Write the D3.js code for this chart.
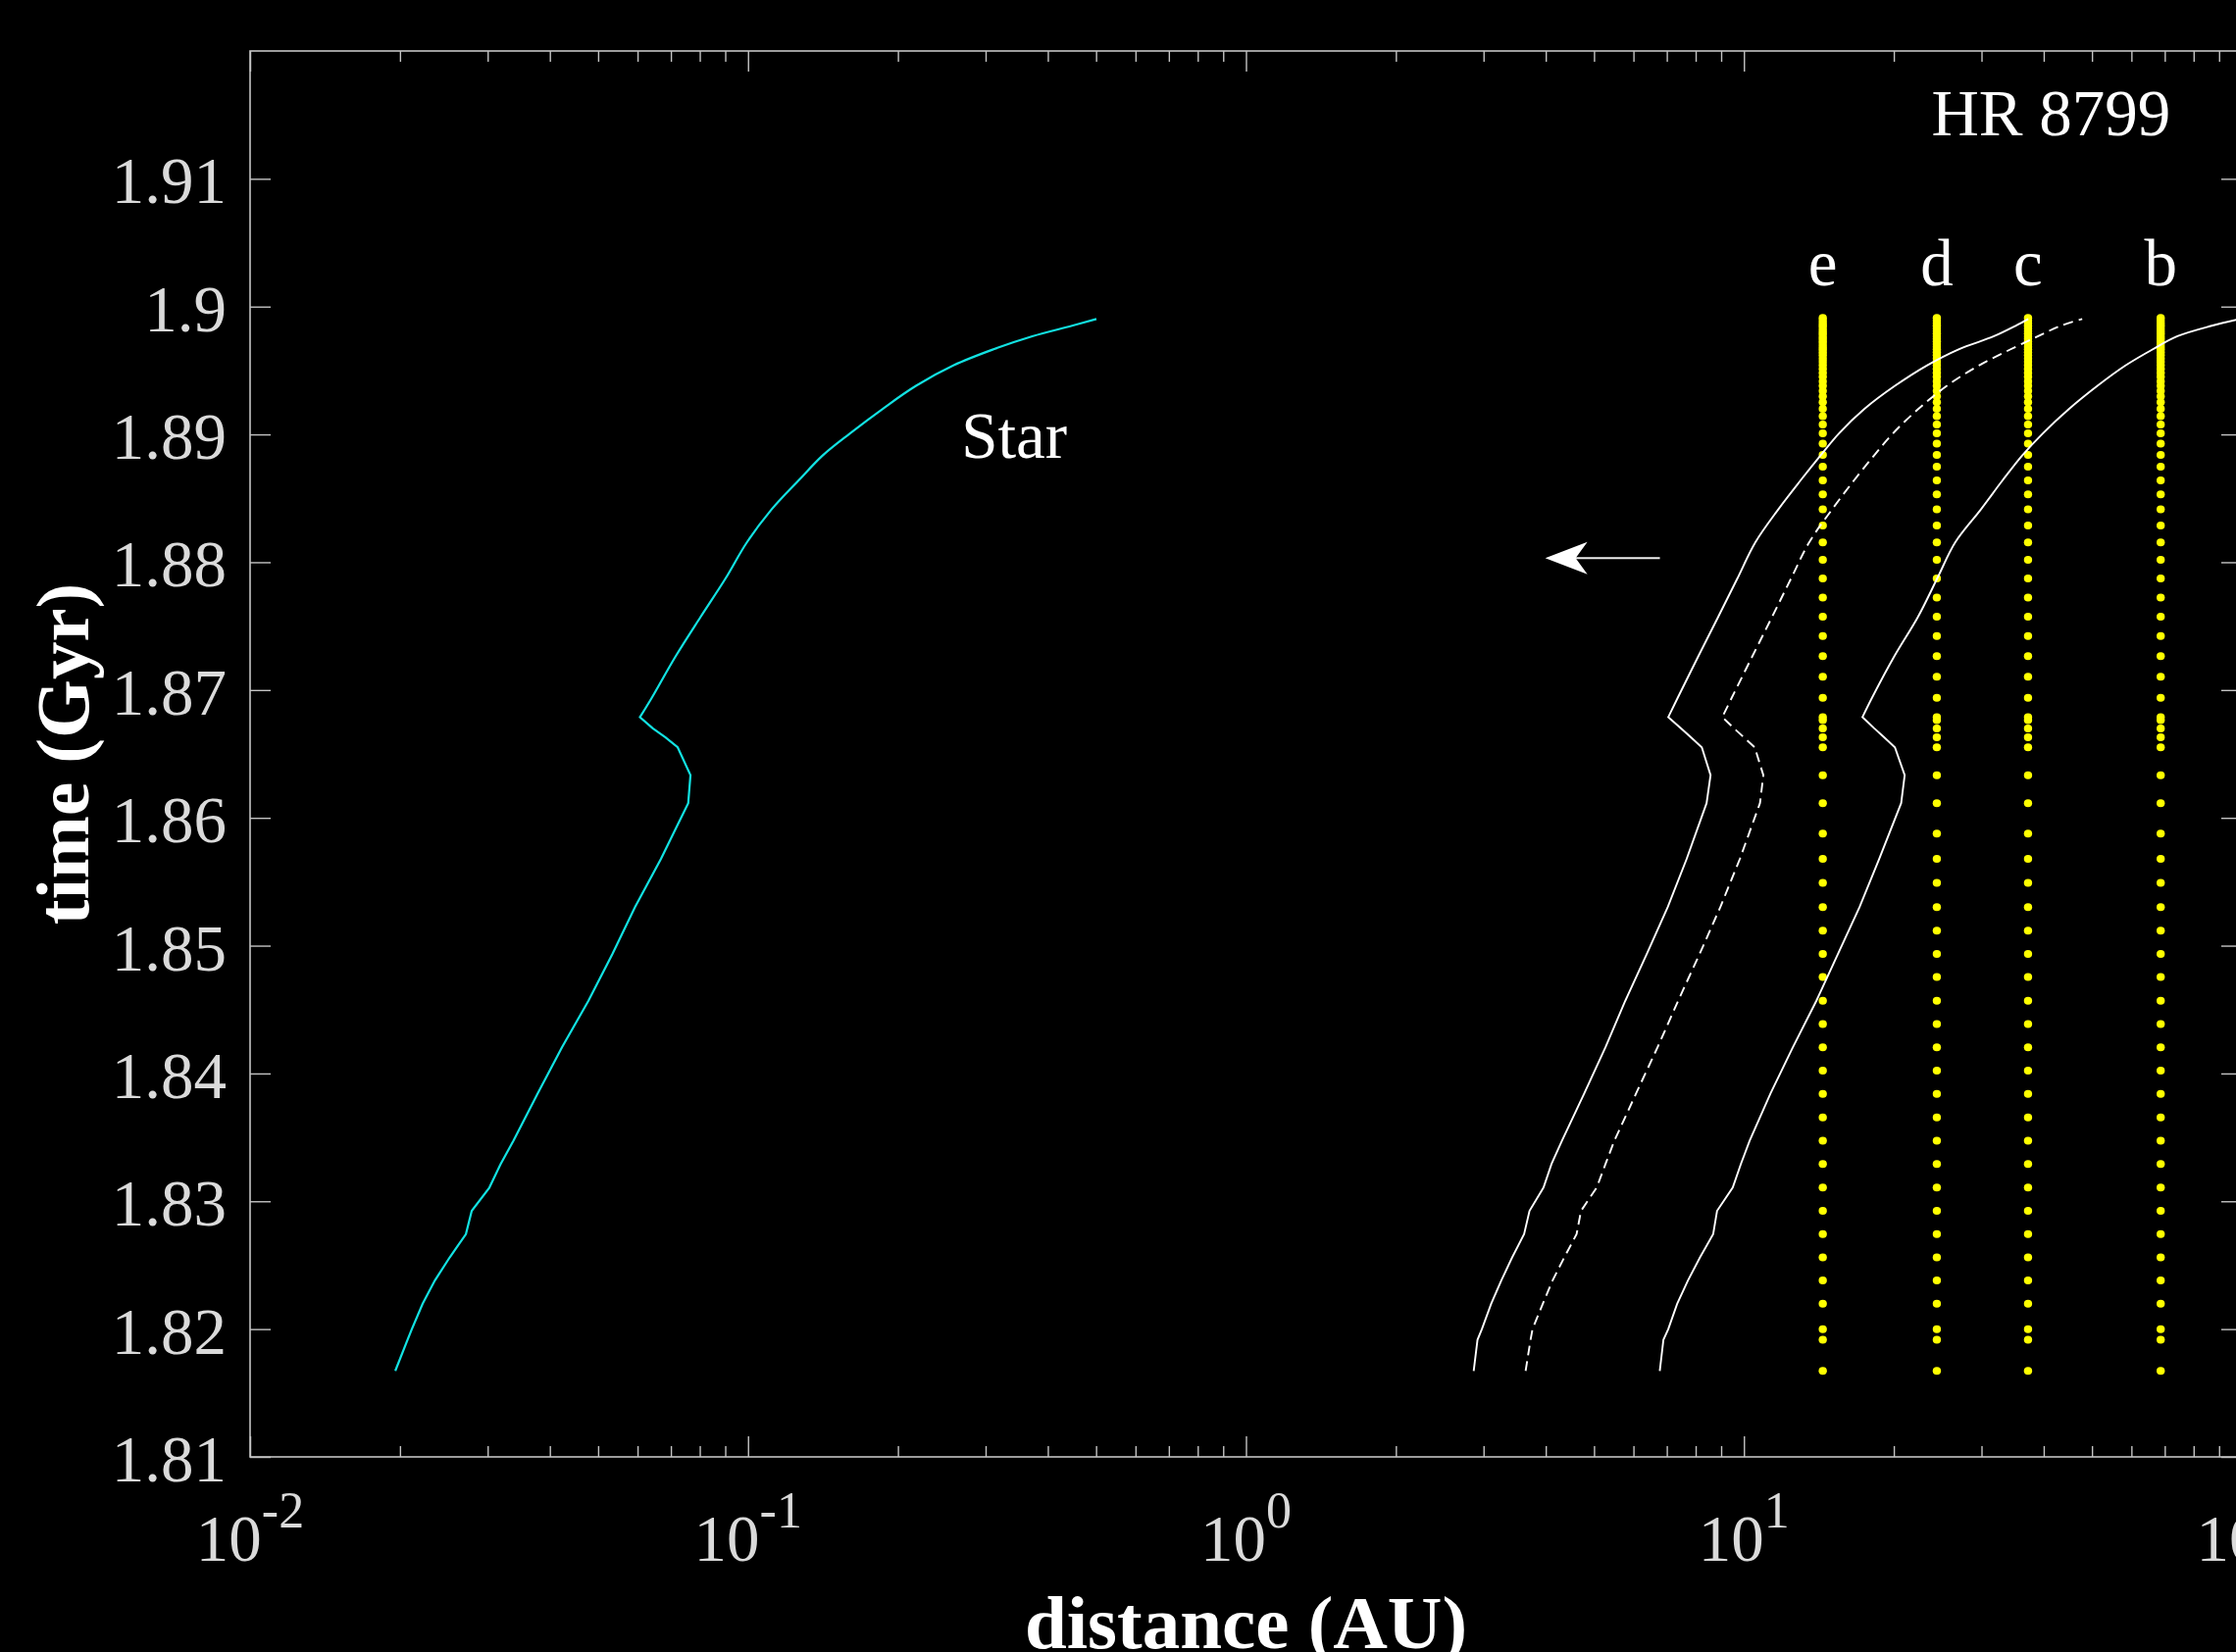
<!DOCTYPE html>
<html>
<head>
<meta charset="utf-8">
<script src="https://cdn.jsdelivr.net/npm/d3@7/dist/d3.min.js"></script>
<style>
  html, body { margin: 0; padding: 0; background: #000; }
  svg { display: block; }
  text { font-family: "Liberation Serif", "Times New Roman", serif; }
</style>
</head>
<body>
<div id="chart"></div>
<script>
// y ticks (Gyr) and x decades (AU)
const timeTicks = [1.81, 1.82, 1.83, 1.84, 1.85, 1.86, 1.87, 1.88, 1.89, 1.9, 1.91];
const timeTickLabels = ["1.81", "1.82", "1.83", "1.84", "1.85", "1.86", "1.87", "1.88", "1.89", "1.9", "1.91"];
const decades = [0.01, 0.1, 1, 10, 100];
const decadeExponents = ["-2", "-1", "0", "1", "2"];

// planets (orbit in AU)
const planetNames = ["e", "d", "c", "b"];
const planetAU = [14.4, 24.4, 37.2, 68.7];

// sample times of the planet dots (Gyr)
const dotTimes = [
  1.81673, 1.81916, 1.82000, 1.82198, 1.82380, 1.82561, 1.82743, 1.82925, 1.83107, 1.83292,
  1.83474, 1.83656, 1.83841, 1.84023, 1.84205, 1.84387, 1.84569, 1.84754, 1.84936, 1.85117,
  1.85302, 1.85491, 1.85679, 1.85876, 1.86115, 1.86334, 1.86552, 1.86630, 1.86700, 1.86764,
  1.86788, 1.86939, 1.87104, 1.87266, 1.87422, 1.87574, 1.87724, 1.87873, 1.88018, 1.88155,
  1.88288, 1.88413, 1.88531, 1.88640, 1.88748, 1.88839, 1.88927, 1.89008, 1.89077, 1.89142,
  1.89200, 1.89252, 1.89298, 1.89341, 1.89380, 1.89415, 1.89451, 1.89482, 1.89512, 1.89541,
  1.89568, 1.89594, 1.89620, 1.89643, 1.89666, 1.89686, 1.89706, 1.89727, 1.89748, 1.89768,
  1.89788, 1.89809, 1.89829, 1.89850, 1.89870, 1.89890, 1.89911
];

// sample times of the tracks (Gyr)
const trackTimes = [
  1.81673, 1.81916, 1.82000, 1.82198, 1.82380, 1.82561, 1.82743, 1.82925, 1.83107, 1.83292,
  1.83474, 1.83841, 1.84205, 1.84569, 1.84936, 1.85302, 1.85679, 1.86115, 1.86334, 1.86552,
  1.86630, 1.86700, 1.86788, 1.86939, 1.87265, 1.87572, 1.87871, 1.88155, 1.88413, 1.88638,
  1.88837, 1.89008, 1.89200, 1.89380, 1.89541, 1.89666, 1.89768, 1.89850, 1.89903
];
// index of the sharp turn at ~1.868 Gyr
const turnIndex = 22;

// stellar radius (AU)
const starAU = [
  0.01957, 0.02071, 0.02113, 0.02221, 0.02350, 0.02517, 0.02713, 0.02787, 0.03024, 0.03186,
  0.03380, 0.03777, 0.04230, 0.04781, 0.05342, 0.05929, 0.06686, 0.07584, 0.07663, 0.07223,
  0.06828, 0.06437, 0.06068, 0.06408, 0.07158, 0.08030, 0.09006, 0.09946, 0.11148, 0.12620,
  0.14134, 0.16021, 0.18639, 0.21743, 0.25891, 0.31118, 0.37225, 0.44728, 0.50075
];

// white tracks (AU): inner solid, middle dashed, outer solid
const innerAU = [
  2.866, 2.917, 2.977, 3.107, 3.256, 3.424, 3.619, 3.710, 3.958, 4.108,
  4.312, 4.775, 5.272, 5.778, 6.383, 7.031, 7.674, 8.414, 8.57, 8.23,
  7.825, 7.478, 7.048, 7.362, 8.10, 8.877, 9.696, 10.54, 11.72, 12.98,
  14.26, 15.52, 17.46, 20.10, 23.34, 26.99, 31.77, 35.12, 37.24
];
const middleAU = [
  3.644, 3.728, 3.762, 3.945, 4.127, 4.358, 4.613, 4.708, 5.062, 5.273,
  5.493, 6.069, 6.708, 7.377, 8.149, 8.967, 9.815, 10.77, 10.94, 10.51,
  9.995, 9.552, 9.05, 9.45, 10.40, 11.39, 12.43, 13.52, 15.03, 16.62,
  18.27, 19.92, 22.41, 25.56, 29.69, 34.33, 38.97, 43.25, 47.79
];
const outerAU = [
  6.776, 6.891, 7.048, 7.343, 7.718, 8.161, 8.675, 8.831, 9.495, 9.860,
  10.27, 11.30, 12.54, 13.98, 15.45, 17.07, 18.69, 20.69, 21.03, 20.10,
  19.12, 18.27, 17.30, 18.08, 20.05, 22.36, 24.43, 26.56, 29.91, 33.03,
  36.24, 39.83, 44.99, 51.28, 58.48, 66.25, 74.22, 86.98, 99.2
];

const width = 2280;
const height = 1685;
const plot = { left: 255, right: 2286, top: 52, bottom: 1486 };
const axisColor = "#c4c4c4";
const labelColor = "#dadada";

const svg = d3.select("#chart")
  .append("svg")
  .attr("width", width)
  .attr("height", height)
  .style("background", "#000");

const x = d3.scaleLog().domain([0.01, 100]).range([plot.left, plot.right]);
const y = d3.scaleLinear().domain([1.81, 1.92]).range([plot.bottom, plot.top]);

const minorTicks = [];
decades.slice(0, -1).forEach((d) => {
  for (let k = 2; k <= 9; k++) minorTicks.push(d * k);
});

// axes (ticks point inward on all four sides)
const styleAxis = (g) => {
  g.select(".domain").remove();
  g.selectAll(".tick line").attr("stroke", axisColor).attr("stroke-width", 1.4);
  g.selectAll(".tick text").remove();
};
svg.append("g")
  .attr("transform", `translate(0,${plot.bottom})`)
  .call(d3.axisBottom(x).tickValues(decades).tickSize(-21).tickFormat(""))
  .call(styleAxis);
svg.append("g")
  .attr("transform", `translate(0,${plot.bottom})`)
  .call(d3.axisBottom(x).tickValues(minorTicks).tickSize(-11).tickFormat(""))
  .call(styleAxis);
svg.append("g")
  .attr("transform", `translate(0,${plot.top})`)
  .call(d3.axisTop(x).tickValues(decades).tickSize(-21).tickFormat(""))
  .call(styleAxis);
svg.append("g")
  .attr("transform", `translate(0,${plot.top})`)
  .call(d3.axisTop(x).tickValues(minorTicks).tickSize(-11).tickFormat(""))
  .call(styleAxis);
svg.append("g")
  .attr("transform", `translate(${plot.left},0)`)
  .call(d3.axisLeft(y).tickValues(timeTicks).tickSize(-21).tickFormat(""))
  .call(styleAxis);
svg.append("g")
  .attr("transform", `translate(${plot.right},0)`)
  .call(d3.axisRight(y).tickValues(timeTicks).tickSize(-21).tickFormat(""))
  .call(styleAxis);

svg.append("rect")
  .attr("x", plot.left)
  .attr("y", plot.top)
  .attr("width", plot.right - plot.left)
  .attr("height", plot.bottom - plot.top)
  .attr("fill", "none")
  .attr("stroke", axisColor)
  .attr("stroke-width", 1.6);

// tick labels
svg.append("g")
  .selectAll("text")
  .data(timeTicks)
  .join("text")
  .attr("x", plot.left - 24)
  .attr("y", (d) => y(d) + 25)
  .attr("text-anchor", "end")
  .attr("font-size", 67)
  .attr("fill", labelColor)
  .text((d, i) => timeTickLabels[i]);

const xLabels = svg.append("g")
  .selectAll("text")
  .data(decades)
  .join("text")
  .attr("x", (d) => x(d))
  .attr("y", 1592)
  .attr("text-anchor", "middle")
  .attr("font-size", 67)
  .attr("fill", labelColor);
xLabels.append("tspan").text("10");
xLabels.append("tspan")
  .attr("dy", -34)
  .attr("font-size", 52)
  .text((d, i) => decadeExponents[i]);

// axis titles
svg.append("text")
  .attr("x", (plot.left + plot.right) / 2)
  .attr("y", 1681)
  .attr("text-anchor", "middle")
  .attr("font-size", 77)
  .attr("font-weight", "bold")
  .attr("fill", "#fff")
  .text("distance (AU)");

svg.append("text")
  .attr("transform", `translate(90,${(plot.top + plot.bottom) / 2}) rotate(-90)`)
  .attr("text-anchor", "middle")
  .attr("font-size", 77)
  .attr("font-weight", "bold")
  .attr("fill", "#fff")
  .text("time (Gyr)");

// planet dots
const dotData = [];
planetAU.forEach((a) => dotTimes.forEach((t) => dotData.push({ a, t })));
svg.append("g")
  .selectAll("ellipse")
  .data(dotData)
  .join("ellipse")
  .attr("cx", (d) => x(d.a))
  .attr("cy", (d) => y(d.t))
  .attr("rx", 4.2)
  .attr("ry", 4)
  .attr("fill", "#ffff00");

svg.append("g")
  .selectAll("text")
  .data(planetNames)
  .join("text")
  .attr("x", (d, i) => x(planetAU[i]))
  .attr("y", y(1.9017))
  .attr("text-anchor", "middle")
  .attr("font-size", 67)
  .attr("fill", "#fff")
  .text((d) => d);

// tracks: straight segments below the turn, smooth above it
const lineLow = d3.line()
  .x((d) => x(d[0]))
  .y((d) => y(d[1]));
const lineHigh = d3.line()
  .x((d) => x(d[0]))
  .y((d) => y(d[1]))
  .curve(d3.curveCatmullRom.alpha(0.5));

function drawTrack(values, color, width, dash) {
  const pts = values.map((v, i) => [v, trackTimes[i]]);
  const d = lineLow(pts.slice(0, turnIndex + 1)) + lineHigh(pts.slice(turnIndex)).replace(/^M[^A-Z]*/, (m) => "L" + m.slice(1));
  svg.append("path")
    .attr("d", d)
    .attr("fill", "none")
    .attr("stroke", color)
    .attr("stroke-width", width)
    .attr("stroke-dasharray", dash || null);
}

drawTrack(starAU, "#12e2e2", 2.2);
drawTrack(innerAU, "#fff", 1.9);
drawTrack(middleAU, "#fff", 1.9, "10,6");
drawTrack(outerAU, "#fff", 1.9);

// annotations
svg.append("text")
  .attr("x", x(0.268))
  .attr("y", y(1.88814))
  .attr("font-size", 67)
  .attr("fill", "#fff")
  .text("Star");

svg.append("text")
  .attr("x", x(23.8))
  .attr("y", y(1.91337))
  .attr("font-size", 67)
  .attr("fill", "#fff")
  .text("HR 8799");

// arrow pointing inward
const arrowT = 1.88032;
const tipX = x(3.99);
const arrowY = y(arrowT);
svg.append("line")
  .attr("x1", tipX + 30)
  .attr("x2", x(6.78))
  .attr("y1", arrowY)
  .attr("y2", arrowY)
  .attr("stroke", "#ececec")
  .attr("stroke-width", 2);
svg.append("path")
  .attr("d", `M${tipX},${arrowY} L${tipX + 43},${arrowY - 16.5} L${tipX + 31},${arrowY} L${tipX + 43},${arrowY + 16.5} Z`)
  .attr("fill", "#fff");
</script>
</body>
</html>
